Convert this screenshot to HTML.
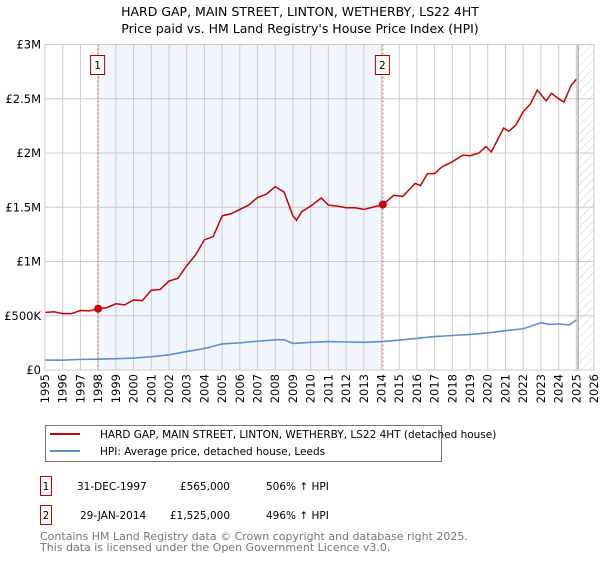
<!DOCTYPE html>
<html><head><meta charset="utf-8"><style>
body{margin:0;background:#fff;font-family:"DejaVu Sans","Liberation Sans",sans-serif;}
svg text{font-family:"DejaVu Sans","Liberation Sans",sans-serif;}
</style></head><body>
<svg id="c" width="600" height="560" viewBox="0 0 600 560" xmlns="http://www.w3.org/2000/svg">
<defs><pattern id="hatch" width="6" height="6" patternUnits="userSpaceOnUse" patternTransform="rotate(45)"><line x1="0" y1="0" x2="0" y2="6" stroke="#ccc" stroke-width="1"/></pattern></defs>
<text x="300" y="16" text-anchor="middle" font-size="12.5" fill="#000">HARD GAP, MAIN STREET, LINTON, WETHERBY, LS22 4HT</text>
<text x="300" y="33" text-anchor="middle" font-size="12.5" fill="#000">Price paid vs. HM Land Registry's House Price Index (HPI)</text>
<g id="plot"></g>
<g id="legend">
<rect x="45.5" y="425.5" width="396" height="36" fill="#fff" stroke="#777"/>
<line x1="50" y1="434" x2="80" y2="434" stroke="#cc0000" stroke-width="2"/>
<text x="100" y="438" font-size="10.5">HARD GAP, MAIN STREET, LINTON, WETHERBY, LS22 4HT (detached house)</text>
<line x1="50" y1="451" x2="80" y2="451" stroke="#5b8fd6" stroke-width="2"/>
<text x="100" y="455" font-size="10.5">HPI: Average price, detached house, Leeds</text>
</g>
<g font-size="10.5">
<rect x="40.5" y="476.5" width="11" height="19" fill="#fff" stroke="#cc0000"/>
<text x="46" y="490" text-anchor="middle">1</text>
<text x="77" y="490">31-DEC-1997</text>
<text x="230" y="490" text-anchor="end">£565,000</text>
<text x="266" y="490">506% ↑ HPI</text>
<rect x="40.5" y="505.5" width="11" height="19" fill="#fff" stroke="#cc0000"/>
<text x="46" y="519" text-anchor="middle">2</text>
<text x="80" y="519">29-JAN-2014</text>
<text x="230" y="519" text-anchor="end">£1,525,000</text>
<text x="266" y="519">496% ↑ HPI</text>
</g>
<text x="40" y="540" font-size="11" fill="#777">Contains HM Land Registry data © Crown copyright and database right 2025.</text>
<text x="40" y="551" font-size="11" fill="#777">This data is licensed under the Open Government Licence v3.0.</text>
</svg>
<script>
const years=[1995,1996,1997,1998,1999,2000,2001,2002,2003,2004,2005,2006,2007,2008,2009,2010,2011,2012,2013,2014,2015,2016,2017,2018,2019,2020,2021,2022,2023,2024,2025,2026];
const yTicks=[0,500000,1000000,1500000,2000000,2500000,3000000];
const yTickLabels=["£0","£500K","£1M","£1.5M","£2M","£2.5M","£3M"];
const priceT=[1995,1995.5,1996,1996.5,1997,1997.5,1998,1998.5,1999,1999.5,2000,2000.5,2001,2001.5,2002,2002.5,2003,2003.5,2004,2004.5,2005,2005.5,2006,2006.5,2007,2007.5,2008,2008.5,2009,2009.2,2009.5,2010,2010.6,2011,2011.5,2012,2012.5,2013,2013.5,2014.08,2014.7,2015.2,2015.9,2016.2,2016.6,2017.0,2017.4,2018.0,2018.6,2019.0,2019.5,2019.9,2020.2,2020.9,2021.2,2021.6,2022.0,2022.4,2022.8,2023.3,2023.6,2024.0,2024.3,2024.7,2025.0];
const priceV=[530,537,520,520,548,545,565,575,610,600,645,640,735,742,820,845,960,1060,1200,1230,1420,1440,1480,1520,1590,1620,1690,1640,1420,1380,1460,1510,1585,1520,1510,1495,1495,1480,1500,1525,1610,1600,1720,1700,1810,1810,1870,1920,1980,1975,2000,2060,2010,2230,2200,2260,2380,2450,2580,2480,2550,2500,2470,2620,2680];
const hpiT=[1995,1996,1997,1998,1999,2000,2001,2002,2003,2004,2005,2006,2007,2008,2008.5,2009,2010,2011,2012,2013,2014,2015,2016,2017,2018,2019,2020,2021,2022,2023,2023.5,2024,2024.6,2025];
const hpiV=[92,90,98,100,104,110,122,140,170,198,240,250,265,278,280,245,255,262,258,255,262,275,292,308,318,328,342,362,380,435,420,425,415,460];
const sales=[{t:1998.0,v:565,l:"1"},{t:2014.08,v:1525,l:"2"}];
const NS="http://www.w3.org/2000/svg";
const L=45,R=594,T=44.5,B=370;
const x=t=>L+(t-1995)/(2026-1995)*(R-L);
const y=v=>B-v/3000000*(B-T);
const g=document.getElementById('plot');
function mk(tag,a,parent){const e=document.createElementNS(NS,tag);for(const k in a)e.setAttribute(k,a[k]);(parent||g).appendChild(e);return e;}
let e;
e=mk('rect',{x:x(1998),y:T,width:x(2014.08)-x(1998),height:B-T,fill:'#eef3fd',opacity:0.8});


e=mk('rect',{x:x(2025.1),y:T,width:R-x(2025.1),height:B-T,fill:'url(#hatch)'});


years.forEach(yr=>{
 e=mk('line',{x1:x(yr),x2:x(yr),y1:T,y2:B,stroke:'#cccccc','stroke-width':1});
 
 
 e=mk('text',{x:0,y:0,'font-size':'11.5','text-anchor':'end',transform:`translate(${x(yr)+4},${B+4}) rotate(-90)`});
 e.textContent=yr;
 
 
});
yTicks.forEach((v,i)=>{
 e=mk('line',{x1:L,x2:R,y1:y(v),y2:y(v),stroke:'#cccccc','stroke-width':1});
 
 
 e=mk('text',{x:L-4,y:y(v)+4,'font-size':'11.5','text-anchor':'end'});
 e.textContent=yTickLabels[i];
 
 
});
e=mk('line',{x1:x(2025.1),x2:x(2025.1),y1:T,y2:B,stroke:'#999','stroke-width':1.2});


e=mk('polyline',{points:hpiT.map((t,i)=>x(t)+','+y(hpiV[i]*1000)).join(' '),fill:'none',stroke:'#5b8fd6','stroke-width':1.6});


e=mk('polyline',{points:priceT.map((t,i)=>x(t)+','+y(priceV[i]*1000)).join(' '),fill:'none',stroke:'#cc0000','stroke-width':1.5});


sales.forEach(s=>{
 e=mk('line',{x1:x(s.t),x2:x(s.t),y1:T,y2:B,stroke:'#e06060','stroke-width':1,'stroke-dasharray':'2,2'});
 
 
 e=mk('circle',{cx:x(s.t),cy:y(s.v*1000),r:4,fill:'#cc0000'});
 
 
 e=mk('rect',{x:x(s.t)-7.5,y:55.5,width:14,height:19,fill:'#fff',stroke:'#aa0000'});
 
 
 e=mk('text',{x:x(s.t)-0.5,y:69,'font-size':'10.5','text-anchor':'middle'});
 e.textContent=s.l;
 
 
});
e=mk('rect',{x:L,y:T,width:R-L,height:B-T,fill:'none',stroke:'#cccccc'});


</script>
</body></html>
